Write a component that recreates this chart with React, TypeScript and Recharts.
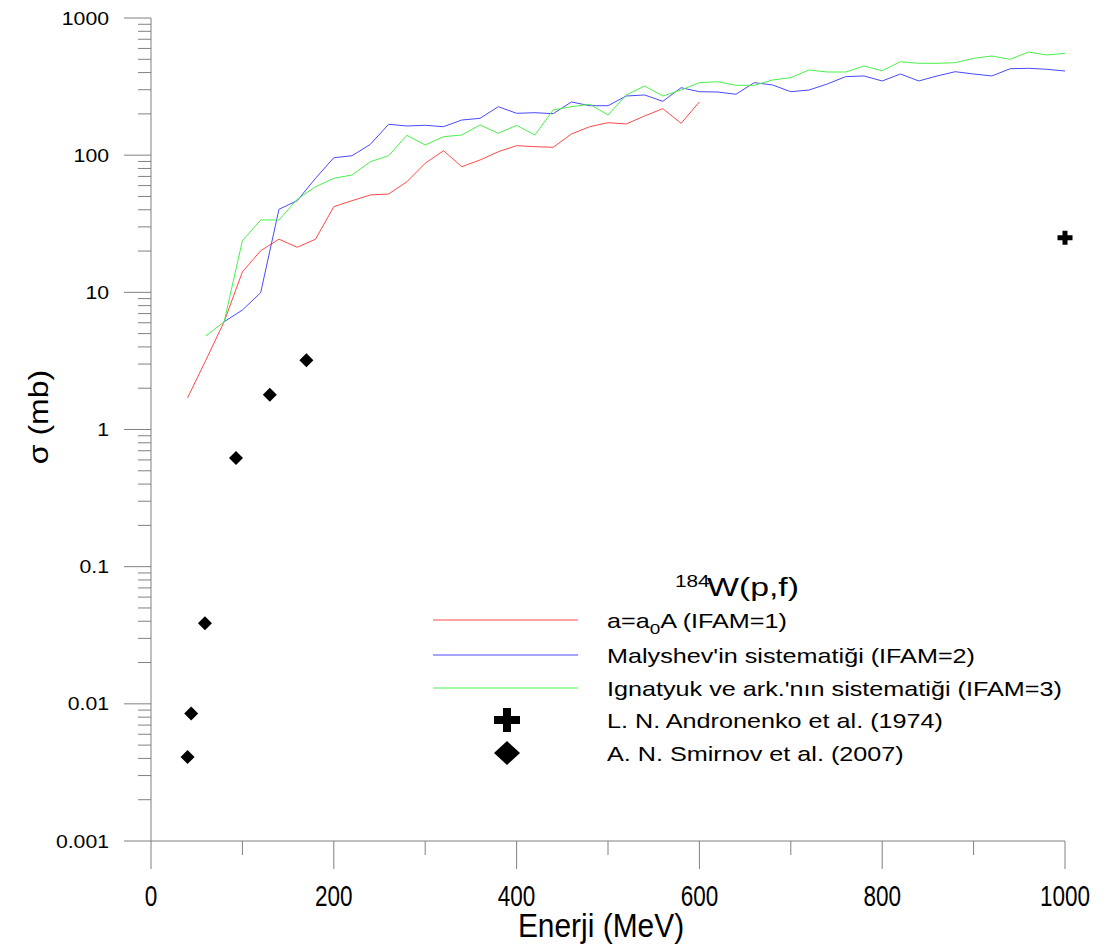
import React from 'react';
import { ComposedChart, Line, Scatter, XAxis, YAxis, Legend } from 'recharts';

// Fission cross sections of 184W(p,f) versus proton energy (MeV -> mb)
const ENERGY_IFAM1 = [40, 60, 80, 100, 120, 140, 160, 180, 200, 220, 240, 260, 280, 300, 320, 340, 360, 380, 400, 420, 440, 460, 480, 500, 520, 540, 560, 580, 600];
const SIGMA_IFAM1 = [1.7, 3.2, 6.1, 14.1, 20.1, 24.4, 21.3, 24.4, 42.1, 46.6, 51.3, 52.1, 64.0, 87.3, 107.8, 82.4, 92.2, 106, 117.3, 115.3, 114.1, 142.7, 161.3, 172.5, 168.8, 193.1, 218.3, 170.7, 244.2];

const ENERGY_IFAM2 = [80, 100, 120, 140, 160, 180, 200, 220, 240, 260, 280, 300, 320, 340, 360, 380, 400, 420, 440, 460, 480, 500, 520, 540, 560, 580, 600, 620, 640, 660, 680, 700, 720, 740, 760, 780, 800, 820, 840, 860, 880, 900, 920, 940, 960, 980, 1000];
const SIGMA_IFAM2 = [6.1, 7.43, 9.94, 40.3, 46.6, 67.8, 95.8, 99.1, 120, 167.9, 163.2, 165.1, 161.3, 180.4, 185.6, 225.6, 201.9, 204, 200.6, 244.2, 229.4, 229.4, 270, 274.6, 247, 310.4, 290.2, 288.7, 277.9, 337.7, 324.9, 290.2, 298.6, 330.4, 373.5, 377.9, 347.4, 390.7, 347.4, 377.9, 406, 390.7, 377.9, 426.9, 429.8, 422.7, 410.8];

const ENERGY_IFAM3 = [60, 80, 100, 120, 140, 160, 180, 200, 220, 240, 260, 280, 300, 320, 340, 360, 380, 400, 420, 440, 460, 480, 500, 520, 540, 560, 580, 600, 620, 640, 660, 680, 700, 720, 740, 760, 780, 800, 820, 840, 860, 880, 900, 920, 940, 960, 980, 1000];
const SIGMA_IFAM3 = [4.81, 6.1, 23.8, 33.7, 33.7, 47.7, 58.9, 67.8, 71.7, 89.6, 99.1, 139.6, 118.6, 136.4, 140.3, 166, 144.4, 165, 140.3, 213.6, 225.6, 235, 196.3, 274.6, 319.3, 270, 298.6, 337.7, 343.3, 323.2, 323.2, 353.2, 367.2, 417.8, 403.9, 403.9, 446.8, 412.8, 480.2, 467.4, 467.4, 472.1, 508.3, 528.4, 499.8, 565, 537.3, 552.8];

const ENERGY_ANDRONENKO = [1000];
const SIGMA_ANDRONENKO = [25];

const ENERGY_SMIRNOV = [40, 44, 59, 93, 130, 170];
const SIGMA_SMIRNOV = [0.0041, 0.0085, 0.0387, 0.62, 1.79, 3.2];

const X_TICKS = [0, 100, 200, 300, 400, 500, 600, 700, 800, 900, 1000];
const X_LABELED = [0, 200, 400, 600, 800, 1000];
const Y_DECADES = [0.001, 0.01, 0.1, 1, 10, 100, 1000];
const Y_LABELS = ['0.001', '0.01', '0.1', '1', '10', '100', '1000'];
const Y_MINOR_STEPS = [2, 3, 4, 5, 6, 7, 8, 9];

const pairs = (xs: number[], ys: number[]) => xs.map((x, i) => ({ x, y: ys[i] }));
const dataIfam1 = pairs(ENERGY_IFAM1, SIGMA_IFAM1);
const dataIfam2 = pairs(ENERGY_IFAM2, SIGMA_IFAM2);
const dataIfam3 = pairs(ENERGY_IFAM3, SIGMA_IFAM3);
const dataAndronenko = pairs(ENERGY_ANDRONENKO, SIGMA_ANDRONENKO);
const dataSmirnov = pairs(ENERGY_SMIRNOV, SIGMA_SMIRNOV);

// major ticks at each decade, minor ticks at 2..9 times the decade
const Y_TICKS: number[] = [];
Y_DECADES.forEach((d, i) => {
  Y_TICKS.push(d);
  if (i < Y_DECADES.length - 1) Y_MINOR_STEPS.forEach((m) => Y_TICKS.push(+(d * m).toPrecision(3)));
});

const AXIS = '#808080';
const FONT = '"Liberation Sans", Arial, sans-serif';
const RED = '#ff4a4a';
const BLUE = '#4a4aff';
const GREEN = '#4af04a';

const W = 1098;
const H = 941;

type STextProps = { x: number; y: number; size: number; sx?: number; sy?: number; anchor?: 'start' | 'middle' | 'end'; rotate?: number; children: React.ReactNode };
const SText = ({ x, y, size, sx = 1, sy = 1, anchor = 'start', rotate = 0, children }: STextProps) => (
  <text
    transform={`translate(${x},${y}) scale(${sx},${sy})${rotate ? ` rotate(${rotate})` : ''}`}
    fontSize={size}
    fontFamily={FONT}
    textAnchor={anchor}
    fill="#000"
  >
    {children}
  </text>
);

const YTick = (props: any) => {
  const { x, y, payload } = props;
  const v = payload.value as number;
  const idx = Y_DECADES.findIndex((d) => Math.abs(d - v) / d < 1e-6);
  const major = idx >= 0;
  return (
    <g>
      <line x1={x - (major ? 27 : 13)} x2={x} y1={y} y2={y} stroke={AXIS} strokeWidth={1} />
      {major && (
        <SText x={x - 42} y={y + 6.5} size={18} sx={1.18} anchor="end">
          {Y_LABELS[idx]}
        </SText>
      )}
    </g>
  );
};

const XTick = (props: any) => {
  const { x, y, payload } = props;
  const v = payload.value as number;
  const major = X_LABELED.includes(v);
  return (
    <g>
      <line x1={x} x2={x} y1={y} y2={y + (major ? 28 : 14)} stroke={AXIS} strokeWidth={1} />
      {major && (
        <SText x={x} y={y + 65} size={30} sx={0.75} anchor="middle">
          {String(v)}
        </SText>
      )}
    </g>
  );
};

const XTitle = (props: any) => {
  const vb = props.viewBox;
  return (
    <SText x={vb.x + 450} y={vb.y + 96} size={34} sx={0.88} anchor="middle">
      Enerji (MeV)
    </SText>
  );
};

const YTitle = (props: any) => {
  const vb = props.viewBox;
  return (
    <SText x={vb.x + 40} y={vb.y + 399} size={32} sx={0.88} anchor="middle" rotate={-90}>
      σ (mb)
    </SText>
  );
};

const plusPath = (cx: number, cy: number, hw: number, hh: number, t: number) => {
  const a = t / 2;
  return `M${cx - a},${cy - hh}H${cx + a}V${cy - a}H${cx + hw}V${cy + a}H${cx + a}V${cy + hh}H${cx - a}V${cy + a}H${cx - hw}V${cy - a}H${cx - a}Z`;
};
const diamondPath = (cx: number, cy: number, hw: number, hh: number) =>
  `M${cx},${cy - hh}L${cx + hw},${cy}L${cx},${cy + hh}L${cx - hw},${cy}Z`;

const PlusShape = (props: any) => <path d={plusPath(props.cx, props.cy, 7.5, 7, 5)} fill="#000" />;
const DiamondShape = (props: any) => <path d={diamondPath(props.cx, props.cy, 7, 7)} fill="#000" />;

// legend block, in chart coordinates
const LEGEND_ROWS = [
  { kind: 'line', color: RED, y: 612 },
  { kind: 'line', color: BLUE, y: 647 },
  { kind: 'line', color: GREEN, y: 680 },
  { kind: 'plus', color: '#000', y: 712 },
  { kind: 'diamond', color: '#000', y: 745 },
];
const LEGEND_TEXT: React.ReactNode[] = [
  <>
    a=a<tspan fontSize={15} dy={6}>0</tspan>
    <tspan dy={-6}>A (IFAM=1)</tspan>
  </>,
  "Malyshev'in sistematiği (IFAM=2)",
  "Ignatyuk ve ark.'nın sistematiği (IFAM=3)",
  'L. N. Andronenko et al. (1974)',
  'A. N. Smirnov et al. (2007)',
];

const LegendBox = () => (
  <svg width={W} height={H} style={{ position: 'absolute', left: 0, top: 0, pointerEvents: 'none' }}>
    <SText x={667} y={579} size={16} sx={1.3}>184</SText>
    <SText x={699} y={588} size={26} sx={1.3}>W(p,f)</SText>
    {LEGEND_ROWS.map((r, i) => (
      <g key={i}>
        {r.kind === 'line' && <line x1={425} x2={570} y1={r.y} y2={r.y} stroke={r.color} strokeWidth={1} />}
        {r.kind === 'plus' && <path d={plusPath(499, r.y, 13, 12, 8)} fill="#000" />}
        {r.kind === 'diamond' && <path d={diamondPath(499, r.y, 13, 12)} fill="#000" />}
        <SText x={599} y={r.y + 7.5} size={20} sx={1.26}>
          {LEGEND_TEXT[i]}
        </SText>
      </g>
    ))}
  </svg>
);

export default function App() {
  return (
    <div style={{ width: W, height: H, background: '#fff' }}>
      <ComposedChart width={W} height={H} margin={{ top: 10, right: 41, bottom: 0, left: 0 }}>
        <XAxis
          dataKey="x"
          type="number"
          domain={[0, 1000]}
          ticks={X_TICKS}
          interval={0}
          height={108}
          axisLine={{ stroke: AXIS }}
          tickLine={false}
          tickSize={0}
          tickMargin={0}
          tick={<XTick />}
          label={<XTitle />}
        />
        <YAxis
          dataKey="y"
          type="number"
          scale="log"
          domain={[0.001, 1000]}
          ticks={Y_TICKS}
          interval={0}
          width={143}
          axisLine={{ stroke: AXIS }}
          tickLine={false}
          tickSize={0}
          tickMargin={0}
          tick={<YTick />}
          label={<YTitle />}
        />
        <Line data={dataIfam1} dataKey="y" type="linear" stroke={RED} strokeWidth={1} dot={false} isAnimationActive={false} />
        <Line data={dataIfam2} dataKey="y" type="linear" stroke={BLUE} strokeWidth={1} dot={false} isAnimationActive={false} />
        <Line data={dataIfam3} dataKey="y" type="linear" stroke={GREEN} strokeWidth={1} dot={false} isAnimationActive={false} />
        <Scatter data={dataAndronenko} dataKey="y" shape={<PlusShape />} isAnimationActive={false} />
        <Scatter data={dataSmirnov} dataKey="y" shape={<DiamondShape />} isAnimationActive={false} />
        <Legend
          layout="horizontal"
          verticalAlign="middle"
          align="center"
          wrapperStyle={{ left: 0, top: 0, width: W, height: H, pointerEvents: 'none' }}
          content={() => <LegendBox />}
        />
      </ComposedChart>
    </div>
  );
}
